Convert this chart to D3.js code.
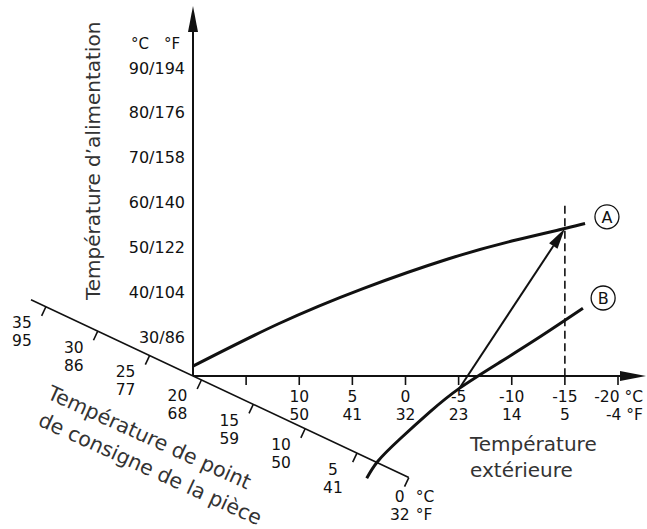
<!DOCTYPE html>
<html><head><meta charset="utf-8">
<script src="https://cdn.jsdelivr.net/npm/d3@7/dist/d3.min.js"></script>
<style>
html,body{margin:0;padding:0;background:#fff;}
svg{display:block;font-family:"DejaVu Sans",sans-serif;}
</style></head>
<body>
<svg id="chart" width="647" height="529"></svg>
<script>
// ---- data ----
const outdoorTicks = [15, 10, 5, 0, -5, -10, -15, -20];
const outdoorLabelsC = ["", "10", "5", "0", "-5", "-10", "-15", "-20 °C"];
const outdoorLabelsF = ["", "50", "41", "32", "23", "14", "5", "-4 °F"];
const supplyTicksC = [30, 40, 50, 60, 70, 80, 90];
const supplyTicksF = [86, 104, 122, 140, 158, 176, 194];
const roomTicksC = [35, 30, 25, 20, 15, 10, 5, 0];
const roomTicksF = [95, 86, 77, 68, 59, 50, 41, 32];
// heating curves: [outdoor °C, supply °C]
const curveA = [[20, 23.5], [12, 32.9], [4, 40.8], [-4, 47.4], [-10, 51.4], [-15, 54.2], [-16.9, 55.3]];
const curveB = [[3.65, -1.5], [2.6, 2.3], [0.5, 7.3], [-2.3, 13.3], [-5.1, 18.6], [-8.9, 24.4], [-12.7, 30.1], [-16.7, 36.4]];
const designOutdoor = -15;
const arrowFrom = [-5.0, 18.3];
const arrowTo = [-15, 54.2];
const markers = [{name: "A", t: -18.96, s: 56.8}, {name: "B", t: -18.6, s: 38.7}];
const titleY = "Température d\u2019alimentation";
const titleX = ["Température", "extérieure"];
const titleRoom = ["Température de point", "de consigne de la pièce"];

// ---- layout ----
const svg = d3.select("#chart");
const x = d3.scaleLinear().domain([20, -20]).range([193, 618]);
const y = d3.scaleLinear().domain([30, 90]).range([337, 68]);
const axisY = 376;          // pixel row of the outdoor axis
const ox = x(20);           // origin column
const ink = "#111";
const fs = 15.5;

// outdoor (horizontal) axis
svg.append("line").attr("x1", ox).attr("x2", 622).attr("y1", axisY).attr("y2", axisY)
  .attr("stroke", ink).attr("stroke-width", 2);
svg.append("path").attr("d", `M646,${axisY} L620,${axisY-5} L620,${axisY+5} Z`).attr("fill", ink);
const xt = svg.append("g");
outdoorTicks.forEach((t, i) => {
  xt.append("line").attr("x1", x(t)).attr("x2", x(t)).attr("y1", axisY).attr("y2", axisY + 9)
    .attr("stroke", ink).attr("stroke-width", 1.6);
  const last = i === outdoorTicks.length - 1;
  const tx = last ? 643 : x(t);
  const anchor = last ? "end" : "middle";
  xt.append("text").attr("x", tx).attr("y", axisY + 21).attr("dy", "0.35em").attr("text-anchor", anchor)
    .attr("font-size", fs).attr("fill", ink).text(outdoorLabelsC[i]);
  xt.append("text").attr("x", tx).attr("y", axisY + 39).attr("dy", "0.35em").attr("text-anchor", anchor)
    .attr("font-size", fs).attr("fill", ink).text(outdoorLabelsF[i]);
});
svg.selectAll(".xtitle").data(titleX).join("text")
  .attr("x", 470).attr("y", (d, i) => 451 + i * 26)
  .attr("font-size", 20).attr("fill", "#333").text(d => d);

// supply (vertical) axis
svg.append("line").attr("x1", ox).attr("x2", ox).attr("y1", axisY).attr("y2", 30)
  .attr("stroke", ink).attr("stroke-width", 2);
svg.append("path").attr("d", `M${ox},6 L${ox-5},32 L${ox+5},32 Z`).attr("fill", ink);
supplyTicksC.forEach((s, i) => {
  svg.append("text").attr("x", 185).attr("y", y(s)).attr("dy", "0.35em").attr("text-anchor", "end")
    .attr("font-size", 16).attr("fill", ink).text(`${s}/${supplyTicksF[i]}`);
});
svg.append("text").attr("x", 140).attr("y", 44).attr("dy", "0.35em").attr("text-anchor", "middle")
  .attr("font-size", 15).attr("fill", ink).text("°C");
svg.append("text").attr("x", 172).attr("y", 44).attr("dy", "0.35em").attr("text-anchor", "middle")
  .attr("font-size", 15).attr("fill", ink).text("°F");
svg.append("text").attr("transform", "translate(100,300) rotate(-90)")
  .attr("font-size", 20).attr("fill", "#333").text(titleY);

// room set-point (diagonal) axis
const ang = 25.2 * Math.PI / 180;
const k = Math.tan(ang);
const room = d3.scaleLinear().domain([0, 35]).range([408.8, 45.9]);   // column along the diagonal
const diagPt = px => [px, axisY + (px - ox) * k];
const nrm = [-Math.sin(ang), Math.cos(ang)];
const p0 = diagPt(31), p1 = diagPt(room(0));
svg.append("line").attr("x1", p0[0]).attr("y1", p0[1]).attr("x2", p1[0]).attr("y2", p1[1])
  .attr("stroke", ink).attr("stroke-width", 1.6);
roomTicksC.forEach((c, i) => {
  const p = diagPt(room(c));
  svg.append("line").attr("x1", p[0]).attr("y1", p[1])
    .attr("x2", p[0] + nrm[0] * 10).attr("y2", p[1] + nrm[1] * 10)
    .attr("stroke", ink).attr("stroke-width", 1.6);
  if (c === 0) {
    const cx = p[0] - 9;
    [[`${c}`, "°C", 19], [`${roomTicksF[i]}`, "°F", 37]].forEach(([v, u, dy]) => {
      svg.append("text").attr("x", cx).attr("y", p[1] + dy).attr("dy", "0.35em").attr("text-anchor", "middle")
        .attr("font-size", fs).attr("fill", ink).text(v);
      svg.append("text").attr("x", cx + 16).attr("y", p[1] + dy).attr("dy", "0.35em")
        .attr("font-size", fs).attr("fill", ink).text(u);
    });
  } else {
    svg.append("text").attr("x", p[0] - 24).attr("y", p[1] + 16).attr("dy", "0.35em").attr("text-anchor", "middle")
      .attr("font-size", fs).attr("fill", ink).text(c);
    svg.append("text").attr("x", p[0] - 24).attr("y", p[1] + 34).attr("dy", "0.35em").attr("text-anchor", "middle")
      .attr("font-size", fs).attr("fill", ink).text(roomTicksF[i]);
  }
});
const roomTitlePos = [[46, 398], [37, 425]];
titleRoom.forEach((t, i) => {
  svg.append("text").attr("transform", `translate(${roomTitlePos[i][0]},${roomTitlePos[i][1]}) rotate(24.5)`)
    .attr("font-size", 20.5).attr("fill", "#333").text(t);
});

// design line (dashed)
svg.append("line").attr("x1", x(designOutdoor)).attr("x2", x(designOutdoor))
  .attr("y1", y(59.3)).attr("y2", axisY).attr("stroke", ink).attr("stroke-width", 1.6)
  .attr("stroke-dasharray", "8,4.5");

// heating curves
const line = d3.line().x(d => x(d[0])).y(d => y(d[1])).curve(d3.curveNatural);
[curveA, curveB].forEach(c => {
  svg.append("path").attr("d", line(c)).attr("fill", "none").attr("stroke", ink).attr("stroke-width", 3);
});

// arrow from B to A
const a1 = [x(arrowFrom[0]), y(arrowFrom[1])], a2 = [x(arrowTo[0]), y(arrowTo[1])];
const dx = a2[0] - a1[0], dyy = a2[1] - a1[1], L = Math.hypot(dx, dyy);
const ux = dx / L, uy = dyy / L, hl = 21, hw = 5;
const bx = a2[0] - ux * hl, by = a2[1] - uy * hl;
svg.append("line").attr("x1", a1[0]).attr("y1", a1[1]).attr("x2", bx).attr("y2", by)
  .attr("stroke", ink).attr("stroke-width", 2);
svg.append("path").attr("d", `M${a2[0]},${a2[1]} L${bx - uy * hw},${by + ux * hw} L${bx + uy * hw},${by - ux * hw} Z`)
  .attr("fill", ink);

// circled curve names
markers.forEach(m => {
  svg.append("circle").attr("cx", x(m.t)).attr("cy", y(m.s)).attr("r", 12)
    .attr("fill", "#fff").attr("stroke", ink).attr("stroke-width", 1.3);
  svg.append("text").attr("x", x(m.t)).attr("y", y(m.s)).attr("dy", "0.36em").attr("text-anchor", "middle")
    .attr("font-size", 16).attr("fill", ink).text(m.name);
});
</script>
</body></html>
